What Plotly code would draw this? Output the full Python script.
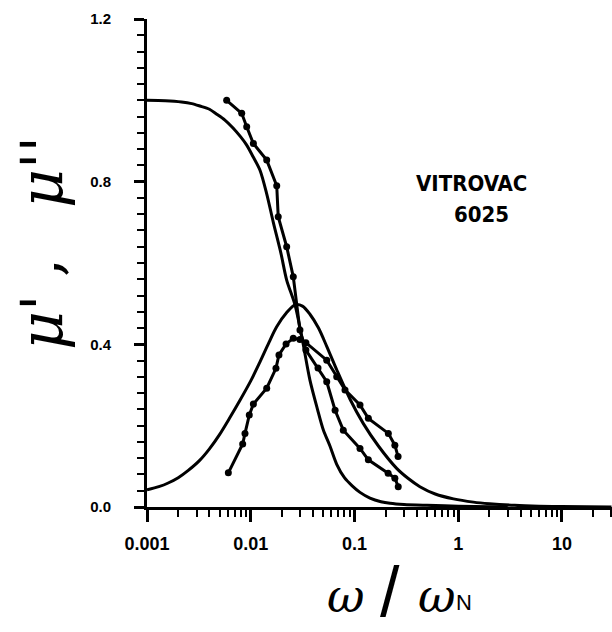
import plotly.graph_objects as go

# ---- data ----
theory_mu1_x = [0.001, 0.0015, 0.00215, 0.0027, 0.00324, 0.004, 0.0047, 0.0056, 0.00675, 0.008,
                0.00914, 0.0105, 0.01228, 0.01425, 0.0165, 0.0195, 0.0222, 0.0267, 0.0315,
                0.0372, 0.044, 0.05, 0.058, 0.0674, 0.08, 0.095, 0.113, 0.141, 0.18, 0.22,
                0.3, 0.5, 1.0, 3.0]
theory_mu1_y = [1.0, 0.999, 0.996, 0.992, 0.986, 0.978, 0.966, 0.952, 0.932, 0.91,
                0.89, 0.862, 0.828, 0.77, 0.70, 0.625, 0.558, 0.497, 0.41,
                0.312, 0.24, 0.19, 0.15, 0.105, 0.072, 0.052, 0.036, 0.022, 0.013, 0.009,
                0.006, 0.004, 0.002, 0.0]

theory_mu2_x = [0.001, 0.0013, 0.0016, 0.002, 0.0025, 0.0032, 0.004, 0.005, 0.0063, 0.0079,
                0.01, 0.01228, 0.015, 0.01778, 0.0222, 0.0267, 0.0315, 0.0372, 0.045,
                0.054, 0.068, 0.0906, 0.1217, 0.17, 0.255, 0.33, 0.427, 0.6, 0.9, 1.4,
                2.0, 3.5, 6.0, 10.0, 30.0]
theory_mu2_y = [0.042, 0.05, 0.059, 0.072, 0.09, 0.114, 0.143, 0.178, 0.22, 0.263,
                0.31, 0.357, 0.405, 0.443, 0.478, 0.497, 0.494, 0.474, 0.44,
                0.395, 0.335, 0.265, 0.205, 0.15, 0.095, 0.07, 0.05, 0.032, 0.02, 0.012,
                0.008, 0.004, 0.002, 0.001, 0.0]

data_mu1_x = [0.00586, 0.00818, 0.00914, 0.0106, 0.01425, 0.0178, 0.0184, 0.0222, 0.0257,
              0.0298, 0.034, 0.0445, 0.054, 0.065, 0.078, 0.113, 0.136, 0.211, 0.245, 0.264]
data_mu1_y = [1.0, 0.968, 0.935, 0.894, 0.853, 0.79, 0.714, 0.64, 0.566,
              0.435, 0.386, 0.342, 0.308, 0.238, 0.189, 0.144, 0.116, 0.083, 0.071, 0.05]

data_mu2_x = [0.00608, 0.00836, 0.0088, 0.00968, 0.0106, 0.01425, 0.0175, 0.0187, 0.0219,
              0.0257, 0.0298, 0.034, 0.054, 0.0674, 0.081, 0.113, 0.136, 0.212, 0.245, 0.263]
data_mu2_y = [0.084, 0.155, 0.181, 0.226, 0.253, 0.292, 0.341, 0.374, 0.401,
              0.415, 0.412, 0.404, 0.361, 0.32, 0.288, 0.251, 0.218, 0.181, 0.152, 0.124]

x_tick_vals = [0.001, 0.01, 0.1, 1, 10]
x_tick_text = ["0.001", "0.01", "0.1", "1", "10"]
y_tick_vals = [0.0, 0.4, 0.8, 1.2]
y_tick_text = ["0.0", "0.4", "0.8", "1.2"]

fig = go.Figure()
line_style = dict(color="black", width=3)
fig.add_trace(go.Scatter(x=theory_mu1_x, y=theory_mu1_y, mode="lines",
                         line=dict(shape="spline", smoothing=0.8, **line_style)))
fig.add_trace(go.Scatter(x=theory_mu2_x, y=theory_mu2_y, mode="lines",
                         line=dict(shape="spline", smoothing=0.8, **line_style)))
fig.add_trace(go.Scatter(x=data_mu1_x, y=data_mu1_y, mode="lines+markers",
                         line=line_style, marker=dict(color="black", size=7)))
fig.add_trace(go.Scatter(x=data_mu2_x, y=data_mu2_y, mode="lines+markers",
                         line=line_style, marker=dict(color="black", size=7)))

minor_x = [m * 10 ** e for e in range(-3, 2) for m in range(2, 10)]

fig.update_xaxes(type="log", range=[-3, 1.482], tickvals=x_tick_vals, ticktext=x_tick_text,
                 ticks="outside", ticklen=12, tickwidth=2.5, tickcolor="black",
                 showline=True, linecolor="black", linewidth=3, showgrid=False, zeroline=False,
                 tickfont=dict(family="Liberation Sans", size=18, color="black", weight="bold"),
                 ticklabelstandoff=6,
                 minor=dict(tickvals=minor_x, ticks="outside", ticklen=7, tickwidth=2,
                            tickcolor="black", showgrid=False))
fig.update_yaxes(range=[0, 1.2], tickvals=y_tick_vals, ticktext=y_tick_text,
                 ticks="outside", ticklen=10, tickwidth=2.5, tickcolor="black",
                 showline=True, linecolor="black", linewidth=3, showgrid=False, zeroline=False,
                 tickfont=dict(family="Liberation Sans", size=15, color="black", weight="bold"),
                 ticklabelstandoff=20,
                 minor=dict(dtick=0.04, ticks="outside", ticklen=7, tickwidth=2,
                            tickcolor="black", showgrid=False))

annos = []
# plot area in pixels: x 147..612, y 19..507
def px(xp):
    return (xp - 147) / 465.0
def py(yp):
    return (507 - yp) / 488.0

label_font = dict(family="DejaVu Sans Condensed, Liberation Sans", size=22, color="black",
                  weight="bold")
annos.append(dict(x=px(471), y=py(183), text="VITROVAC", showarrow=False, font=label_font))
annos.append(dict(x=px(481), y=py(214), text="6025", showarrow=False, font=label_font))
# x axis title pieces
serif = "DejaVu Serif"
annos.append(dict(x=px(346), y=py(596), text="<i>ω</i>", showarrow=False,
                  font=dict(family=serif, size=46, color="black")))
annos.append(dict(x=px(390), y=py(592), text="/", showarrow=False,
                  font=dict(family="Liberation Sans", size=70, color="black")))
annos.append(dict(x=px(437), y=py(596), text="<i>ω</i>", showarrow=False,
                  font=dict(family=serif, size=46, color="black")))
annos.append(dict(x=px(464), y=py(602), text="N", showarrow=False,
                  font=dict(family="Liberation Sans", size=22, color="black")))
# y axis title pieces (rotated)
annos.append(dict(x=px(42), y=py(322), text="<i>μ'</i>", showarrow=False, textangle=-90,
                  font=dict(family=serif, size=60, color="black")))
annos.append(dict(x=px(40), y=py(268), text=",", showarrow=False, textangle=-90,
                  font=dict(family=serif, size=60, color="black")))
annos.append(dict(x=px(42), y=py(172), text="<i>μ''</i>", showarrow=False, textangle=-90,
                  font=dict(family=serif, size=60, color="black")))
for a in annos:
    a.update(xref="paper", yref="paper", xanchor="center", yanchor="middle")

fig.update_layout(width=612, height=632, margin=dict(l=147, r=0, t=19, b=125),
                  paper_bgcolor="white", plot_bgcolor="white", showlegend=False,
                  annotations=annos)

fig.write_html("out.html")
